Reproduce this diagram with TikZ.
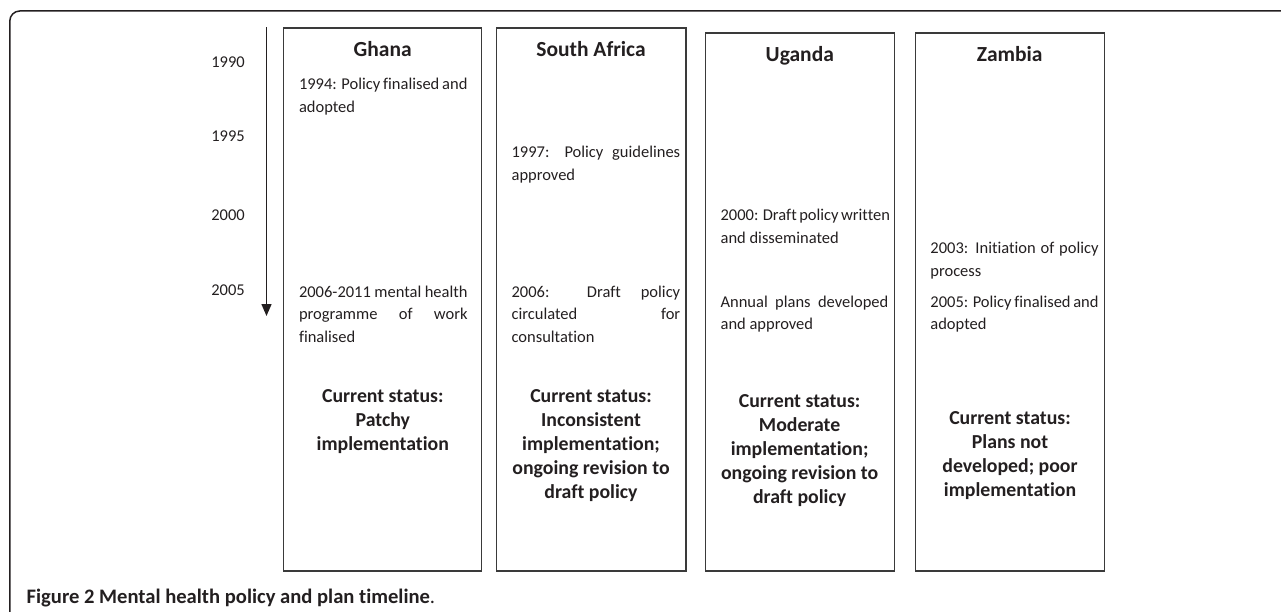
\documentclass[tikz,border=0pt]{standalone}
\usepackage{fontspec}
\setmainfont{Carlito}[Ligatures=NoCommon]
\usetikzlibrary{arrows.meta}
\definecolor{txt}{HTML}{231F20}
\definecolor{boxline}{HTML}{3A3A3A}
\newcommand\evfont{\fontsize{16.5}{22.5}\selectfont}
\newcommand\ttlfont{\fontsize{21.5}{26}\selectfont\bfseries}
\newcommand\stfont{\fontsize{19.8}{24}\selectfont\bfseries}
\newcommand\capfont{\fontsize{20.6}{24}\selectfont}
\newcommand\jus[2]{\makebox[#1pt][s]{#2}}
\tikzset{
  frame/.style={draw=txt, line width=1.5pt, rounded corners=10pt},
  colbox/.style={draw=boxline, line width=1.3pt},
  evt/.style={font=\evfont, text=txt, inner sep=0pt, anchor=base west},
  yr/.style={font=\evfont, text=txt, inner sep=0pt, anchor=base east},
  ttl/.style={font=\ttlfont, text=txt, inner sep=0pt, anchor=base},
  stat/.style={font=\stfont, text=txt, inner sep=0pt, anchor=base},
  capt/.style={font=\capfont, text=txt, inner sep=0pt, anchor=base west},
  tline/.style={draw=txt, line width=1.4pt, -{Triangle[length=12pt,width=10pt]}}
}
\begin{document}
\begin{tikzpicture}[x=1pt,y=-1pt]
\useasboundingbox (0,0) rectangle (1281,612);
\begin{scope}
  \clip (0,0) rectangle (1281,612);
  \draw[frame] (9.8,11) rectangle (1300,640);
\end{scope}
% timeline
\coordinate (ttop) at (266.5,27.5);
\coordinate (tend) at (266.5,316);
\draw[tline] (ttop) -- (tend);
\node[yr] (y1990) at (245,68) {1990};
\node[yr] (y1995) at (245,142) {1995};
\node[yr] (y2000) at (245,221) {2000};
\node[yr] (y2005) at (245,295) {2005};
% column boxes
\draw[colbox] (283.7,28) rectangle (481.6,571);
\draw[colbox] (496.3,28) rectangle (686,571);
\draw[colbox] (705.3,33) rectangle (894.3,571);
\draw[colbox] (915.5,33) rectangle (1104.5,571);
% titles
\node[ttl] (tg) at (382.7,57) {Ghana};
\node[ttl] (ts) at (591,57) {South Africa};
\node[ttl] (tu) at (799.8,62) {Uganda};
\node[ttl] (tz) at (1009.7,62) {Zambia};
% Ghana events
\node[evt] (g1a) at (298.8,90) {\jus{168.5}{1994: Policy finalised and}};
\node[evt] (g1b) at (298.8,112.5) {adopted};
\node[evt] (g2a) at (298.8,297) {\jus{168.5}{2006-2011 mental health}};
\node[evt] (g2b) at (298.8,319.5) {\jus{168.5}{programme of work}};
\node[evt] (g2c) at (298.8,342) {finalised};
% South Africa events
\node[evt] (s1a) at (511.4,158) {\jus{168.6}{1997: Policy guidelines}};
\node[evt] (s1b) at (511.4,180.5) {approved};
\node[evt] (s2a) at (511.4,297) {\jus{168.6}{2006: Draft policy}};
\node[evt] (s2b) at (511.4,319.5) {\jus{168.6}{circulated for}};
\node[evt] (s2c) at (511.4,342) {consultation};
% Uganda events
\node[evt] (u1a) at (720.4,221) {\jus{167.8}{2000: Draft policy written}};
\node[evt] (u1b) at (720.4,243.5) {and disseminated};
\node[evt] (u2a) at (720.4,307) {\jus{167.8}{Annual plans developed}};
\node[evt] (u2b) at (720.4,329.5) {and approved};
% Zambia events
\node[evt] (z1a) at (930.2,254) {\jus{168.2}{2003: Initiation of policy}};
\node[evt] (z1b) at (930.2,276.5) {process};
\node[evt] (z2a) at (930.2,307) {\jus{168.2}{2005: Policy finalised and}};
\node[evt] (z2b) at (930.2,329.5) {adopted};
% status
\node[stat] (gs1) at (382.8,402) {Current status:};
\node[stat] (gs2) at (382.8,426) {Patchy};
\node[stat] (gs3) at (382.8,450) {implementation};
\node[stat] (ss1) at (591,402) {Current status:};
\node[stat] (ss2) at (591,426) {Inconsistent};
\node[stat] (ss3) at (591,450) {implementation;};
\node[stat] (ss4) at (591,474) {ongoing revision to};
\node[stat] (ss5) at (591,498) {draft policy};
\node[stat] (us1) at (799.6,407) {Current status:};
\node[stat] (us2) at (799.6,431) {Moderate};
\node[stat] (us3) at (799.6,455) {implementation;};
\node[stat] (us4) at (799.6,479) {ongoing revision to};
\node[stat] (us5) at (799.6,503) {draft policy};
\node[stat] (zs1) at (1010,424) {Current status:};
\node[stat] (zs2) at (1010,448) {Plans not};
\node[stat] (zs3) at (1010,472) {developed; poor};
\node[stat] (zs4) at (1010,496) {implementation};
% caption
\node[capt] (cap) at (26.5,603) {\textbf{Figure 2 Mental health policy and plan timeline}.};
\end{tikzpicture}
\end{document}
